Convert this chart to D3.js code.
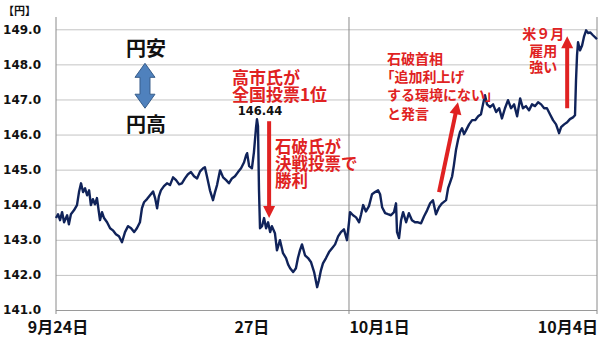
<!DOCTYPE html>
<html>
<head>
<meta charset="utf-8">
<script src="https://cdn.jsdelivr.net/npm/d3@7"></script>
<style>
  html, body { margin: 0; padding: 0; background: #fff; }
  svg { display: block; }
</style>
</head>
<body>
<svg id="chart" width="600" height="337"></svg>
<script>
// ドル円の推移（9月24日〜10月4日）
// hours - 9月24日朝からの経過時間（週末を除いた取引時間）
const hours = [
    0, 0.8, 1.6, 2.4, 3.2, 4.4, 5.1, 5.9, 7.1, 8.3,
    9.1, 9.9, 10.7, 11.5, 12.3, 13.1, 13.8, 14.6, 15.4, 16.2,
    17.4, 18.2, 19.0, 20.2, 21.4, 22.5, 23.7, 24.9, 26.1, 27.3,
    28.5, 29.7, 30.9, 32.0, 33.2, 34.0, 34.8, 36.0, 37.2, 38.4,
    39.2, 40.0, 40.7, 41.5, 42.7, 43.9, 45.1, 46.3, 47.5, 48.7,
    49.8, 51.0, 52.2, 53.4, 54.6, 55.8, 57.0, 58.2, 58.9, 59.7,
    60.9, 62.1, 62.9, 63.7, 64.9, 66.1, 67.3, 68.4, 69.6, 70.8,
    72.0, 73.2, 74.4, 75.2, 75.6, 76.4, 77.5, 78.3, 79.1, 79.5,
    79.9, 80.3, 80.7, 81.5, 82.3, 83.1, 83.9, 84.7, 85.4, 86.6,
    87.4, 88.6, 89.8, 91.0, 91.8, 92.6, 93.8, 94.9, 95.7, 96.5,
    97.3, 98.5, 99.7, 100.9, 102.1, 103.3, 104.0, 104.8, 105.6, 106.8,
    108.0, 109.2, 110.4, 111.6, 112.7, 113.9, 115.1, 115.9, 116.3, 117.5,
    118.7, 119.9, 120.7, 121.5, 122.6, 123.8, 125.0, 126.2, 127.4, 128.2,
    129.0, 130.2, 131.3, 132.5, 133.7, 134.5, 134.9, 135.7, 136.5, 137.3,
    138.5, 139.6, 140.8, 142.0, 143.2, 144.4, 145.6, 146.8, 148.0, 149.1,
    150.3, 151.5, 152.7, 154.3, 155.1, 155.9, 156.7, 157.4, 158.2, 159.0,
    159.8, 160.6, 161.4, 162.2, 163.4, 164.6, 165.8, 167.0, 168.1, 168.9,
    169.7, 170.5, 171.7, 172.9, 174.1, 175.3, 176.4, 177.6, 178.8, 180.0,
    181.2, 182.4, 183.6, 184.7, 185.9, 187.1, 188.3, 189.5, 190.7, 191.9,
    193.1, 194.2, 195.4, 196.6, 197.8, 199.0, 199.8, 201.0, 202.2, 203.3,
    204.5, 205.3, 205.7, 206.1, 206.5, 207.3, 208.1, 208.9, 209.7, 210.5,
    211.3, 212.4, 214.0
];
const rates = [
    143.62, 143.73, 143.56, 143.79, 143.50, 143.70, 143.44, 143.73, 143.84, 143.99,
    144.36, 144.61, 144.36, 144.47, 144.27, 144.41, 143.99, 144.16, 144.01, 144.19,
    143.56, 143.79, 143.62, 143.50, 143.33, 143.27, 143.16, 143.10, 142.93, 143.22,
    143.39, 143.33, 143.22, 143.33, 143.50, 143.90, 144.07, 144.16, 144.27, 144.38,
    144.19, 143.90, 144.24, 144.41, 144.53, 144.61, 144.56, 144.78, 144.70, 144.58,
    144.61, 144.75, 144.87, 144.93, 144.81, 144.75, 144.95, 145.04, 145.07, 144.81,
    144.41, 144.13, 144.36, 144.56, 144.98, 144.78, 144.70, 144.61, 144.75, 144.81,
    144.93, 145.04, 145.21, 145.41, 145.47, 145.10, 145.04, 145.50, 146.18, 146.44,
    146.24, 144.41, 143.33, 143.39, 143.62, 143.33, 143.50, 143.22, 143.39, 143.19,
    142.70, 142.99, 142.62, 142.48, 142.30, 142.19, 142.08, 142.19, 142.48, 142.70,
    142.87, 142.56, 142.48, 142.36, 142.08, 141.65, 141.85, 142.13, 142.33, 142.48,
    142.65, 142.76, 142.87, 143.10, 143.22, 143.30, 142.99, 143.50, 143.79, 143.70,
    143.64, 143.50, 143.73, 143.99, 143.81, 143.96, 144.30, 144.36, 144.41, 144.30,
    143.93, 143.76, 143.73, 143.70, 143.79, 144.04, 143.22, 143.05, 143.56, 143.79,
    143.50, 143.76, 143.56, 143.50, 143.50, 143.47, 143.67, 143.84, 144.04, 144.13,
    143.73, 143.93, 144.04, 144.13, 144.47, 144.64, 144.81, 145.13, 145.55, 145.84,
    146.07, 146.18, 146.01, 146.12, 146.29, 146.41, 146.41, 146.52, 146.58, 146.86,
    147.12, 146.86, 146.78, 146.86, 146.64, 146.75, 146.46, 146.75, 146.98, 146.75,
    146.86, 146.52, 147.03, 146.75, 146.81, 146.69, 146.86, 146.81, 146.92, 146.86,
    146.75, 146.75, 146.58, 146.41, 146.29, 146.04, 146.21, 146.29, 146.35, 146.44,
    146.49, 146.55, 147.55, 148.26, 148.63, 148.40, 148.54, 148.80, 148.97, 148.89,
    148.91, 148.83, 148.72
];

const yTicks = [141, 142, 143, 144, 145, 146, 147, 148, 149];
const dayLabels = ["9月24日", "27日", "10月1日", "10月4日"];
const dayLabelHours = [0.6, 77.3, 127.8, 202.3];
const dividerHours = [0, 115.9, 214];   // 縦線（左端、10月1日、右端）

// 注記（位置はデータ座標）
const notes = [
    { lines: ["高市氏が", "全国投票1位"], h: 69.6, v: 147.66, step: 17, size: 17, color: "#e02222", anchor: "start" },
    { lines: ["石破氏が", "決戦投票で", "勝利"], h: 86.6, v: 145.67, step: 17, size: 16.5, color: "#e02222", anchor: "start" },
    { lines: ["石破首相", "「追加利上げ", "する環境にない」", "と発言"], h: 130.9, v: 148.19, step: 18.3, size: 14, color: "#e02222", anchor: "start" },
    { lines: ["米９月", "雇用", "強い"], h: 192.7, v: 148.89, step: 16.5, size: 14, color: "#e02222", anchor: "middle" },
    { lines: ["円安"], h: 35.6, v: 148.49, step: 0, size: 20, color: "#111", anchor: "middle" },
    { lines: ["円高"], h: 35.6, v: 146.32, step: 0, size: 20, color: "#111", anchor: "middle" }
];
const peakLabel = { text: "146.44", h: 80.7, v: 146.66 };
const redArrows = [
    { from: [84.3, 146.38], to: [84.3, 143.62] },
    { from: [151.5, 144.36], to: [159.0, 146.92] },
    { from: [202.2, 146.75], to: [202.2, 148.80] }
];
const blueArrow = { h: 35.2, top: 148.03, bottom: 146.75 };

const svg = d3.select("#chart");
const W = 600, H = 337;
const margin = { top: 17, right: 3, bottom: 27, left: 56 };
const jpFont = "'Noto Sans CJK JP', 'Noto Sans', sans-serif";

const x = d3.scaleLinear()
    .domain([0, 214])
    .range([margin.left, W - margin.right]);
const y = d3.scaleLinear()
    .domain([141, 149.35])
    .range([H - margin.bottom, margin.top]);

// 横のグリッドと目盛り
const gy = svg.append("g")
    .attr("transform", `translate(${margin.left},0)`)
    .call(d3.axisLeft(y)
        .tickValues(yTicks)
        .tickSize(-(W - margin.left - margin.right))
        .tickPadding(15)
        .tickFormat(d3.format(".1f")));
gy.select(".domain").remove();
gy.selectAll(".tick line").attr("stroke", d => d == 141 ? "#9a9a9a" : "#c4c4c4");
gy.selectAll(".tick text")
    .attr("fill", "#111")
    .style("font-family", "'DejaVu Sans', sans-serif")
    .style("font-weight", "bold")
    .style("font-size", "12px");

// 縦線
svg.append("g").selectAll("line")
    .data(dividerHours)
    .enter()
    .append("line")
    .attr("x1", d => x(d))
    .attr("x2", d => x(d))
    .attr("y1", y(149.35))
    .attr("y2", y(141) + 4)
    .attr("stroke", "#8a8a8a")
    .attr("stroke-width", 1);

// 日付ラベル
const gx = svg.append("g")
    .attr("transform", `translate(0,${y(141)})`)
    .call(d3.axisBottom(x)
        .tickValues(dayLabelHours)
        .tickSize(0)
        .tickPadding(12)
        .tickFormat((d, i) => dayLabels[i]));
gx.select(".domain").remove();
gx.selectAll(".tick text")
    .attr("fill", "#111")
    .style("font-family", jpFont)
    .style("font-weight", "bold")
    .style("font-size", "16px");

// 単位
svg.append("text")
    .attr("x", 3)
    .attr("y", 10)
    .attr("dominant-baseline", "central")
    .style("font-family", jpFont)
    .style("font-weight", "bold")
    .style("font-size", "11px")
    .attr("fill", "#111")
    .text("【円】");

// レートの折れ線
const lineGenerator = d3.line()
    .x((d, i) => x(hours[i]))
    .y(d => y(d));
svg.append("path")
    .attr("d", lineGenerator(rates))
    .style("fill", "none")
    .style("stroke", "#10235a")
    .style("stroke-width", 2.4)
    .style("stroke-linejoin", "round");

// ピーク値
svg.append("text")
    .attr("x", x(peakLabel.h))
    .attr("y", y(peakLabel.v))
    .attr("text-anchor", "middle")
    .attr("dominant-baseline", "central")
    .style("font-family", "'DejaVu Sans', sans-serif")
    .style("font-weight", "bold")
    .style("font-size", "11.5px")
    .attr("fill", "#111")
    .text(peakLabel.text);

// 注記テキスト
for (let note of notes) {
    const t = svg.append("text")
        .attr("text-anchor", note.anchor)
        .style("font-family", jpFont)
        .style("font-weight", "bold")
        .style("font-size", note.size + "px")
        .attr("fill", note.color);
    note.lines.forEach((line, i) => {
        t.append("tspan")
            .attr("x", x(note.h))
            .attr("dx", line.startsWith("「") ? "-0.45em" : 0)
            .attr("y", y(note.v) + i * note.step)
            .attr("dominant-baseline", "central")
            .text(line);
    });
}

// 赤い矢印
function drawArrow(p0, p1, color, width, headLen, headHalf) {
    const dx = p1[0] - p0[0], dy = p1[1] - p0[1];
    const len = Math.sqrt(dx * dx + dy * dy);
    const ux = dx / len, uy = dy / len;
    const bx = p1[0] - ux * headLen, by = p1[1] - uy * headLen;
    svg.append("line")
        .attr("x1", p0[0]).attr("y1", p0[1])
        .attr("x2", bx + ux * 1).attr("y2", by + uy * 1)
        .attr("stroke", color)
        .attr("stroke-width", width);
    svg.append("polygon")
        .attr("points", [
            [p1[0], p1[1]],
            [bx - uy * headHalf, by + ux * headHalf],
            [bx + uy * headHalf, by - ux * headHalf]
        ].map(p => p.join(",")).join(" "))
        .attr("fill", color);
}
for (let a of redArrows) {
    drawArrow([x(a.from[0]), y(a.from[1])], [x(a.to[0]), y(a.to[1])], "#e02222", 4, 12, 6);
}

// 円安・円高の青い両矢印
const bx0 = x(blueArrow.h), bTop = y(blueArrow.top), bBot = y(blueArrow.bottom);
const hw = 10, sw = 5, hl = 14;
svg.append("polygon")
    .attr("points", [
        [bx0, bTop], [bx0 + hw, bTop + hl], [bx0 + sw, bTop + hl], [bx0 + sw, bBot - hl],
        [bx0 + hw, bBot - hl], [bx0, bBot], [bx0 - hw, bBot - hl], [bx0 - sw, bBot - hl],
        [bx0 - sw, bTop + hl], [bx0 - hw, bTop + hl]
    ].map(p => p.join(",")).join(" "))
    .attr("fill", "#4f81bd")
    .attr("stroke", "#385d8a")
    .attr("stroke-width", 1);
</script>
</body>
</html>
